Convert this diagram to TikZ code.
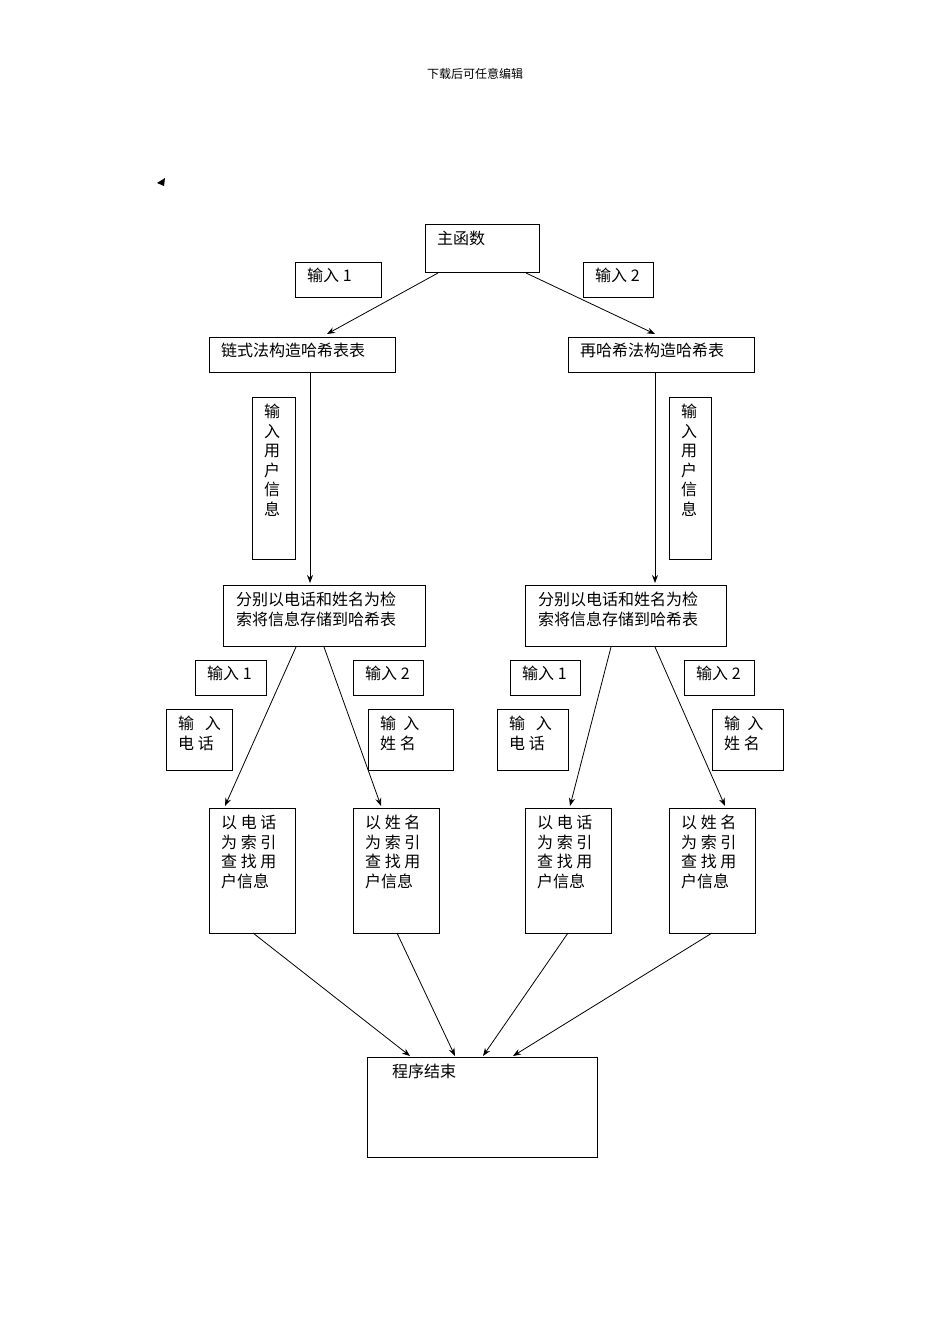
\documentclass[tikz,border=0pt]{standalone}
\usepackage{fontspec}
\newfontfamily\cjk{Noto Sans CJK SC}
\usetikzlibrary{arrows.meta}
\begin{document}
\begin{tikzpicture}[x=1pt,y=-1pt,
  box/.style={draw,line width=0.8pt},
  txt/.style={anchor=north west,inner sep=0pt,font=\cjk\fontsize{16}{19.5}\selectfont,align=left},
  arr/.style={-{Stealth[length=8pt,width=6pt]},line width=0.8pt}]
\useasboundingbox (0,0) rectangle (950,1344);
\node[font=\cjk\fontsize{12}{14}\selectfont] (hdr) at (475,74) {下载后可任意编辑};
\fill (157,183) -- (165,178) -- (164,186) -- cycle;
% boxes
\draw[box] (425,224) rectangle (539,272); \node[txt] (main) at (437,231) {主函数};
\draw[box] (295,262) rectangle (381,297); \node[txt] at (307,268) {输入 1};
\draw[box] (583,262) rectangle (653,297); \node[txt] at (595,268) {输入 2};
\draw[box] (209,337) rectangle (395,372); \node[txt] at (221,343) {链式法构造哈希表表};
\draw[box] (568,337) rectangle (754,372); \node[txt] at (580,343) {再哈希法构造哈希表};
\draw[box] (252,397) rectangle (295,559); \node[txt] at (264,404) {输\\入\\用\\户\\信\\息};
\draw[box] (669,397) rectangle (711,559); \node[txt] at (681,404) {输\\入\\用\\户\\信\\息};
\draw[box] (223,585) rectangle (425,646); \node[txt] at (236,592) {分别以电话和姓名为检\\索将信息存储到哈希表};
\draw[box] (525,585) rectangle (726,646); \node[txt] at (538,592) {分别以电话和姓名为检\\索将信息存储到哈希表};
\draw[box] (195,660) rectangle (266,695); \node[txt] at (207,666) {输入 1};
\draw[box] (353,660) rectangle (423,695); \node[txt] at (365,666) {输入 2};
\draw[box] (510,660) rectangle (580,695); \node[txt] at (522,666) {输入 1};
\draw[box] (684,660) rectangle (754,695); \node[txt] at (696,666) {输入 2};
\draw[box] (166,709) rectangle (232,770); \node[txt] at (178,716) {输\ \ \ 入\\电\ 话};
\draw[box] (368,709) rectangle (453,770); \node[txt] at (380,716) {输\ \ 入\\姓\ 名};
\draw[box] (497,709) rectangle (568,770); \node[txt] at (509,716) {输\ \ \ 入\\电\ 话};
\draw[box] (712,709) rectangle (783,770); \node[txt] at (724,716) {输\ \ 入\\姓\ 名};
\foreach \x/\a/\b in {209/电/话,353/姓/名,525/电/话,669/姓/名}{
  \draw[box] (\x,808) rectangle (\x+86,933);
  \node[txt] at (\x+12,815) {以\ \a\ \b\\为\ 索\ 引\\查\ 找\ 用\\户信息};
}
\draw[box] (367,1057) rectangle (597,1157); \node[txt] at (392,1064) {程序结束};
% coordinates
\coordinate (m1) at (438,273); \coordinate (m2) at (526,273);
\coordinate (c1) at (327,334); \coordinate (c2) at (655,334);
\coordinate (c1b) at (310,373); \coordinate (c2b) at (655,373);
\coordinate (s1) at (310,583); \coordinate (s2) at (655,583);
\coordinate (s1a) at (296,647); \coordinate (s1b) at (324,647);
\coordinate (s2a) at (611,647); \coordinate (s2b) at (655,647);
\coordinate (q1) at (225,806); \coordinate (q2) at (381,806);
\coordinate (q3) at (570,806); \coordinate (q4) at (725,806);
\coordinate (b1) at (253,933); \coordinate (b2) at (397,933);
\coordinate (b3) at (568,933); \coordinate (b4) at (712,933);
\coordinate (e1) at (410,1056); \coordinate (e2) at (455,1056);
\coordinate (e3) at (483,1056); \coordinate (e4) at (513,1056);
\draw[arr] (m1) -- (c1); \draw[arr] (m2) -- (c2);
\draw[arr] (c1b) -- (s1); \draw[arr] (c2b) -- (s2);
\draw[arr] (s1a) -- (q1); \draw[arr] (s1b) -- (q2);
\draw[arr] (s2a) -- (q3); \draw[arr] (s2b) -- (q4);
\draw[arr] (b1) -- (e1); \draw[arr] (b2) -- (e2);
\draw[arr] (b3) -- (e3); \draw[arr] (b4) -- (e4);
\end{tikzpicture}
\end{document}
